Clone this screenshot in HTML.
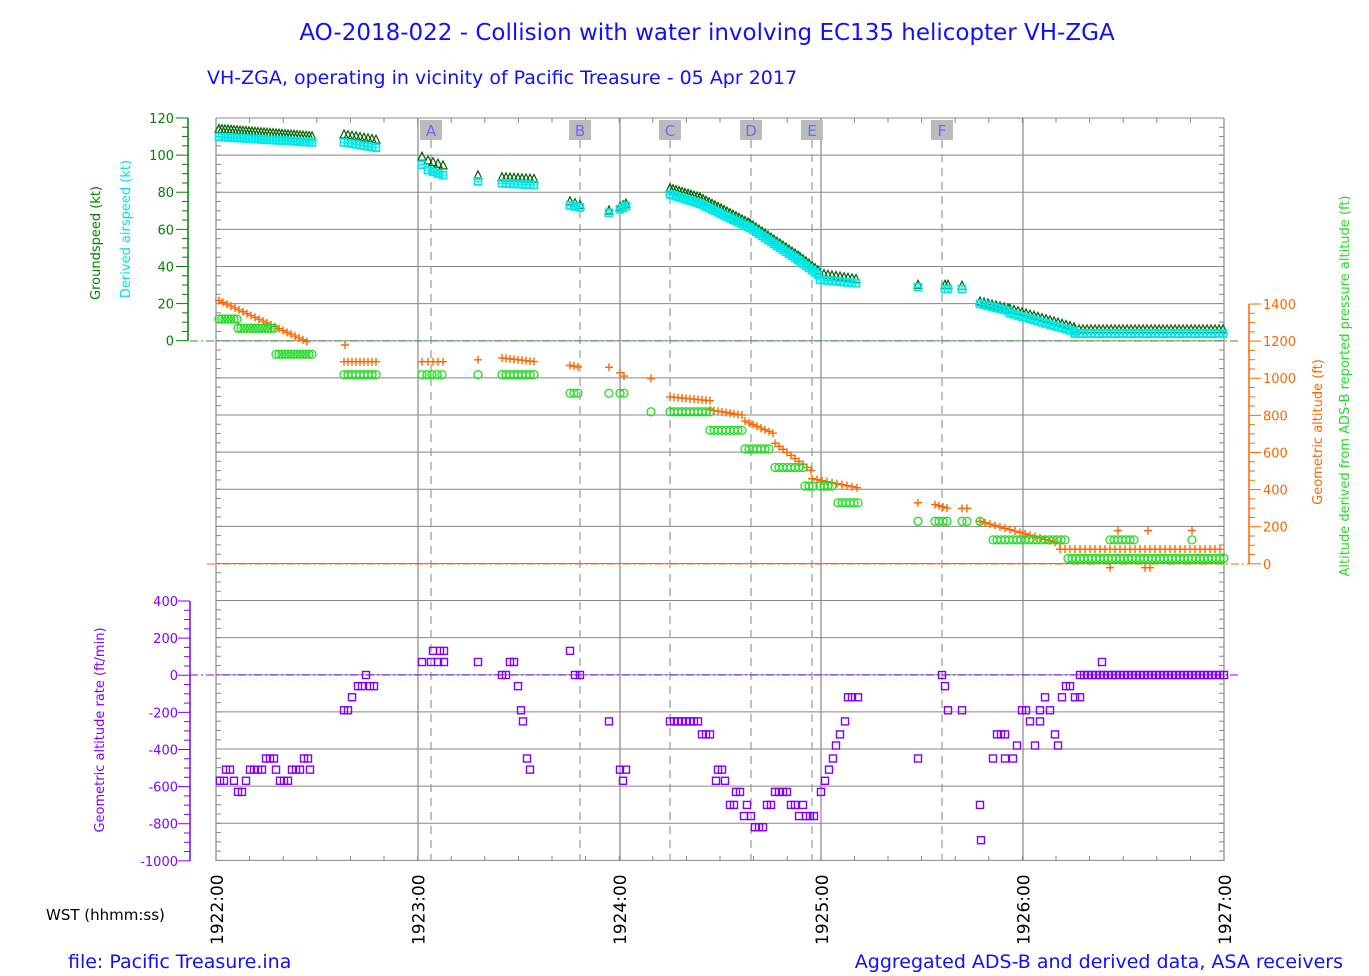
<!DOCTYPE html>
<html><head><meta charset="utf-8"><style>
html,body{margin:0;padding:0;background:#fff;}
svg{display:block;font-family:"DejaVu Sans","Liberation Sans",sans-serif;}
</style></head><body>
<svg id="s" width="1369" height="976" xmlns="http://www.w3.org/2000/svg">
<text x="707" y="40" text-anchor="middle" font-size="23" fill="#1010ff" font-family="DejaVu Sans, sans-serif">AO-2018-022 - Collision with water involving EC135 helicopter VH-ZGA</text>
<text x="207" y="84" font-size="19" fill="#1010ff" font-family="DejaVu Sans, sans-serif">VH-ZGA, operating in vicinity of Pacific Treasure - 05 Apr 2017</text>
<text x="46" y="920" font-size="15" fill="#000">WST (hhmm:ss)</text>
<text x="68" y="968" font-size="19" fill="#1010ff" font-family="DejaVu Sans, sans-serif">file: Pacific Treasure.ina</text>
<text x="1343" y="968" text-anchor="end" font-size="19" fill="#1010ff" font-family="DejaVu Sans, sans-serif">Aggregated ADS-B and derived data, ASA receivers</text>
<g id="g"></g>
</svg>
<script>
var S='';
function L(x1,y1,x2,y2,c,w,d){S+='<line x1="'+x1+'" y1="'+y1+'" x2="'+x2+'" y2="'+y2+'" stroke="'+c+'" stroke-width="'+(w||1)+'"'+(d?' stroke-dasharray="'+d+'"':'')+'/>';}
function T(x,y,t,c,fs,a,rot){S+='<text x="'+x+'" y="'+y+'" fill="'+c+'" font-size="'+fs+'" text-anchor="'+(a||'start')+'"'+(rot?' transform="rotate(-90 '+x+' '+y+')"':'')+'>'+t+'</text>';}
var X0=216,X1=1224,YT=118,YB=861,U=37.12;
for(var i=0;i<=20;i++){var y=YT+i*U;L(X0,y,X1,y,'#888',1);}
[418,620,821,1023].forEach(function(x){L(x,YT,x,YB,'#888',1.2);});
L(X0,YT,X0,YB,'#888',1.2);L(X1,YT,X1,YB,'#888',1.2);
for(var t=0;t<=30;t++){var x=X0+t*33.6;L(x,YT,x,YT+5,'#888');L(x,YB,x,YB-5,'#888');}
for(var i=0;i<=80;i++){var y=YT+i*U/4;L(X0,y,X0+5,y,'#888');L(X1,y,X1-5,y,'#888');}
[[431,'A'],[580,'B'],[670,'C'],[751,'D'],[812,'E'],[942,'F']].forEach(function(e){
L(e[0],140,e[0],YB,'#999',1.2,'8,6');
S+='<rect x="'+(e[0]-11)+'" y="120" width="22" height="20" fill="#bbb"/>';
T(e[0],136,e[1],'#6a6aff',15,'middle');});
L(188,YT,188,341,'#008000',1.5);
for(var i=0;i<=24;i++){var y=YT+i*U/4;L(i%4?182:176,y,188,y,'#008000');}
for(var i=0;i<=6;i++){T(174,YT+i*U+5,String(120-20*i),'#008000',13,'end');}
L(190,601,190,861,'#8000ff',1.5);
for(var i=0;i<=28;i++){var y=601+i*U/4;L(i%4?184:178,y,190,y,'#8000ff');}
for(var i=0;i<=7;i++){T(178,601+i*U+5,String(400-200*i),'#8000ff',13,'end');}
L(1249,304,1249,564,'#ff6600',1.5);
for(var i=0;i<=28;i++){var y=304+i*U/4;L(1249,y,i%4?1255:1261,y,'#ff6600');}
for(var i=0;i<=7;i++){T(1263,304+i*U+5,String(1400-200*i),'#ff6600',13,'start');}
L(190,341,1238,341,'#339933',1,'8,3,2,3');
L(207,564,1249,564,'#ff6600',1,'8,3,2,3');
L(190,675,1238,675,'#8000ff',1,'8,3,2,3');
T(100,243,'Groundspeed (kt)','#008000',13,'middle',1);
T(130,229,'Derived airspeed (kt)','#00e0e0',13,'middle',1);
T(104,730,'Geometric altitude rate (ft/min)','#8000ff',13,'middle',1);
T(1322,432,'Geometric altitude (ft)','#ff6600',13,'middle',1);
T(1349,386,'Altitude derived from ADS-B reported pressure altitude (ft)','#22dd22',13,'middle',1);
['1922:00','1923:00','1924:00','1925:00','1926:00','1927:00'].forEach(function(l,i){T(X0+i*201.6+7,945,l,'#000',17,'start',1);});
function seg(pts){var out=[];for(var k=0;k<pts.length;k++){var p=pts[k];var x0=p[0],x1=p[1],st=p[2],v0=p[3],v1=p[4];if(x1===undefined||x1==x0){out.push([x0,v0]);continue;}for(var x=x0;x<=x1+0.01;x+=st){out.push([x,v0+(v1-v0)*(x-x0)/(x1-x0)]);}}return out;}
var ys=function(v){return 341-v*U/20;}, ya=function(v){return 564-v*U/200;}, yr=function(v){return 675-v*U/200;};
function tri(x,y){S+='<path d="M'+x+' '+(y-5)+'L'+(x-4)+' '+(y+3)+'L'+(x+4)+' '+(y+3)+'Z" fill="none" stroke="#006400" stroke-width="1.2"/>';}
function sq(x,y,c){S+='<rect x="'+(x-3.5)+'" y="'+(y-3.5)+'" width="7" height="7" fill="none" stroke="'+c+'" stroke-width="1.4"/>';}
function cy(x,y){S+='<rect x="'+(x-3.5)+'" y="'+(y-3.5)+'" width="7" height="7" fill="none" stroke="#00e8e8" stroke-width="1.7"/><path d="M'+x+' '+(y-3)+'V'+(y+3)+'M'+(x-3)+' '+y+'H'+(x+3)+'" stroke="#00e8e8"/>';}
function pl(x,y){S+='<path d="M'+(x-4)+' '+y+'H'+(x+4)+'M'+x+' '+(y-4)+'V'+(y+4)+'" stroke="#ff6600" stroke-width="1.4"/>';}
function ci(x,y){S+='<circle cx="'+x+'" cy="'+y+'" r="4" fill="none" stroke="#22dd22" stroke-width="1.3"/>';}
var gs=seg([[219,312,3,114,110],[344,378,4,111,108],[422],[428,445,5,97,94],[478],[502,535,4,88,87],[570,580,5,75,73],[609],[620,627,3,72,74],[670,700,3,82,77],[700,750,3,77,63],[750,800,3,63,45],[800,820,3,45,37],[820,858,4,36,33],[918],[945,948,3,30,30],[962],[980,1010,4,21,17],[1010,1075,4,17,7],[1075,1224,4,6,6]]);
gs.forEach(function(p){var v=p[1];if(p[0]==422)v=99;if(p[0]==478)v=89;if(p[0]==609)v=70;if(p[0]==918)v=30;if(p[0]==962)v=29.5;tri(p[0],ys(v));});
var as=seg([[219,312,3,110,107],[344,378,4,107,104],[422],[428,445,5,92,89],[478],[502,535,4,85,84],[570,580,5,73,72],[609],[620,627,3,71,73],[670,700,3,79,74],[700,750,3,74,61],[750,800,3,61,43],[800,820,3,43,35],[820,858,4,33,31],[918],[945,948,3,28,28],[962],[980,1010,4,20,16],[1010,1075,4,15,5],[1075,1224,4,4,4]]);
as.forEach(function(p){var v=p[1];if(p[0]==422)v=95;if(p[0]==478)v=86;if(p[0]==609)v=69;if(p[0]==918)v=29;if(p[0]==962)v=28;cy(p[0],ys(v));});
var ga=seg([[219,310,4,1420,1190],[345,345,1,1180],[344,378,4,1090,1090],[422,422,1,1090],[428,445,5,1090,1090],[478,478,1,1100],[502,535,4,1110,1090],[570,580,4,1070,1060],[609,609,1,1060],[620,627,4,1030,1000],[651,651,1,1000],[670,710,4,900,880],[710,745,4,830,800],[745,775,4,770,700],[775,812,4,650,500],[812,858,5,460,410],[918,918,1,330],[935,948,4,320,300],[962,968,5,300,300],[980,1060,5,230,110],[1060,1224,5,80,80],[1110,1110,1,-20],[1118,1118,1,180],[1145,1150,5,-20,-20],[1148,1148,1,180],[1192,1192,1,180]]);
ga.forEach(function(p){pl(p[0],ya(p[1]));});
var aa=seg([[219,238,3,1320,1320],[238,276,3,1270,1270],[276,312,3,1130,1130],[344,378,4,1020,1020],[422,445,5,1020,1020],[478,478,1,1020],[502,535,4,1020,1020],[570,580,4,920,920],[609,609,1,920],[620,627,4,920,920],[651,651,1,820],[670,710,4,820,820],[710,745,4,720,720],[745,772,4,620,620],[775,805,4,520,520],[805,815,4,420,420],[820,835,4,420,420],[838,858,4,330,330],[918,918,1,230],[935,948,4,230,230],[962,968,5,230,230],[980,980,1,230],[993,1068,4,130,130],[1068,1224,4,30,30],[1110,1135,4,130,130],[1192,1192,1,130]]);
aa.forEach(function(p){ci(p[0],ya(p[1]));});
var r=[[220,-570],[224,-570],[226,-510],[230,-510],[234,-570],[238,-630],[242,-630],[246,-570],[250,-510],[254,-510],[258,-510],[262,-510],[266,-450],[270,-450],[274,-450],[276,-510],[280,-570],[284,-570],[288,-570],[292,-510],[296,-510],[300,-510],[304,-450],[308,-450],[310,-510],[344,-190],[348,-190],[352,-120],[358,-60],[362,-60],[366,0],[370,-60],[374,-60],[422,70],[431,70],[433,130],[440,130],[444,130],[438,70],[444,70],[478,70],[502,0],[506,0],[510,70],[514,70],[518,-60],[521,-190],[523,-250],[527,-450],[530,-510],[570,130],[575,0],[580,0],[609,-250],[620,-510],[623,-570],[626,-510]];
for(var x=670;x<=700;x+=4)r.push([x,-250]);
[[702,-320],[706,-320],[710,-320],[716,-570],[718,-510],[722,-510],[725,-570],[730,-700],[734,-700],[736,-630],[740,-630],[744,-760],[747,-700],[751,-760],[755,-820],[759,-820],[763,-820],[767,-700],[771,-700],[775,-630],[779,-630],[783,-630],[787,-630],[791,-700],[795,-700],[799,-760],[803,-700],[806,-760],[810,-760],[814,-760],[821,-630],[825,-570],[829,-510],[833,-450],[836,-380],[840,-320],[845,-250],[848,-120],[852,-120],[858,-120],[918,-450],[942,0],[945,-60],[948,-190],[962,-190],[980,-700],[981,-890],[993,-450],[997,-320],[1001,-320],[1005,-450],[1005,-320],[1013,-450],[1017,-380],[1022,-190],[1026,-190],[1030,-250],[1035,-380],[1040,-190],[1040,-250],[1045,-120],[1050,-190],[1055,-320],[1058,-380],[1062,-120],[1066,-60],[1070,-60],[1075,-120],[1080,-120],[1102,70]].forEach(function(p){r.push(p);});
for(var x=1080;x<=1224;x+=4)r.push([x,0]);
r.forEach(function(p){sq(p[0],yr(p[1]),'#8000ff');});
document.getElementById('g').innerHTML=S;
</script>
</body></html>
